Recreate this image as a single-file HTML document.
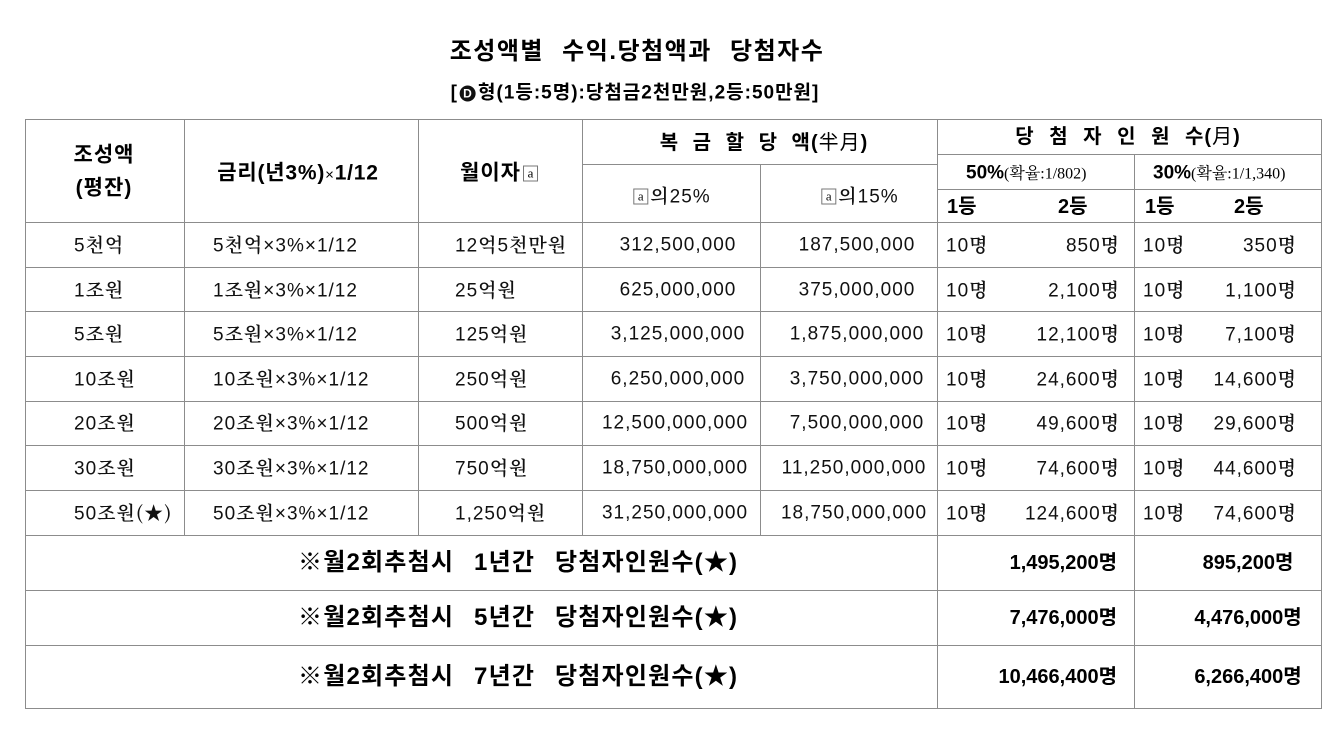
<!DOCTYPE html>
<html><head><meta charset="utf-8">
<style>
html,body{margin:0;padding:0;background:#fff;}
#c{position:relative;width:1344px;height:743px;overflow:hidden;background:#fff;}
.t{position:absolute;white-space:nowrap;line-height:1;transform:translateY(-50%);color:#111;}
.cx{transform:translate(-50%,-50%);}
.b{font-family:"Liberation Sans","Noto Sans CJK KR",sans-serif;font-weight:bold;color:#000;}
.s{font-family:"Liberation Sans","Noto Serif CJK SC","Noto Sans CJK KR",serif;font-size:19px;letter-spacing:1px;}
.s .k,.k{font-family:"Noto Serif CJK SC","Noto Sans CJK KR",serif;font-weight:600;}
.bx{display:inline-block;width:13px;height:14px;border:1px solid #777;font-family:"Liberation Serif",serif;font-weight:normal;font-size:13px;line-height:13px;text-align:center;vertical-align:2px;margin:0 2px;letter-spacing:0;}
.sm{font-family:"Liberation Serif","Noto Serif CJK SC",serif;font-weight:normal;font-size:16px;}
.dc{display:inline-block;width:16px;height:16px;border-radius:50%;background:#111;color:#fff;font-size:12px;line-height:16px;text-align:center;vertical-align:1px;margin:0 2px;}
</style></head><body><div id="c">
<svg width="1344" height="743" style="position:absolute;left:0;top:0" shape-rendering="crispEdges">
<g stroke="#8c8c8c" stroke-width="1">
<line x1="25.5" y1="119" x2="25.5" y2="709"/>
<line x1="184.5" y1="119" x2="184.5" y2="535"/>
<line x1="418.5" y1="119" x2="418.5" y2="535"/>
<line x1="582.5" y1="119" x2="582.5" y2="535"/>
<line x1="760.5" y1="164" x2="760.5" y2="535"/>
<line x1="937.5" y1="119" x2="937.5" y2="709"/>
<line x1="1134.5" y1="154" x2="1134.5" y2="709"/>
<line x1="1321.5" y1="119" x2="1321.5" y2="709"/>
<line x1="25" y1="119.5" x2="1322" y2="119.5"/>
<line x1="582" y1="164.5" x2="937" y2="164.5"/>
<line x1="937" y1="154.5" x2="1322" y2="154.5"/>
<line x1="937" y1="189.5" x2="1322" y2="189.5"/>
<line x1="25" y1="222.5" x2="1322" y2="222.5"/>
<line x1="25" y1="267.5" x2="1322" y2="267.5"/>
<line x1="25" y1="311.5" x2="1322" y2="311.5"/>
<line x1="25" y1="356.5" x2="1322" y2="356.5"/>
<line x1="25" y1="401.5" x2="1322" y2="401.5"/>
<line x1="25" y1="445.5" x2="1322" y2="445.5"/>
<line x1="25" y1="490.5" x2="1322" y2="490.5"/>
<line x1="25" y1="535.5" x2="1322" y2="535.5"/>
<line x1="25" y1="590.5" x2="1322" y2="590.5"/>
<line x1="25" y1="645.5" x2="1322" y2="645.5"/>
<line x1="25" y1="708.5" x2="1322" y2="708.5"/>
</g></svg>

<div class="t b cx" style="left:637px;top:52px;font-size:24px;letter-spacing:1.5px;word-spacing:10px;">조성액별 수익.당첨액과 당첨자수</div>
<div class="t b cx" style="left:635px;top:93px;font-size:19px;letter-spacing:1px;">[<span class="dc">D</span>형(1등:5명):당첨금2천만원,2등:50만원]</div>

<!-- headers -->
<div class="t b cx" style="left:104px;top:155px;font-size:21px;letter-spacing:1px;">조성액</div>
<div class="t b cx" style="left:104px;top:188px;font-size:21px;letter-spacing:1px;">(평잔)</div>
<div class="t b cx" style="left:298px;top:173px;font-size:21px;letter-spacing:0.8px;">금리(년3%)<span style="font-weight:normal;font-size:15px;">×</span>1/12</div>
<div class="t b cx" style="left:500px;top:173px;font-size:21px;letter-spacing:1px;">월이자<span class="bx">a</span></div>
<div class="t b cx" style="left:764px;top:143px;font-size:20px;letter-spacing:1px;word-spacing:7px;">복 금 할 당 액(<span style="font-weight:normal">半月</span>)</div>
<div class="t s cx" style="left:671px;top:196px;"><span class="bx">a</span><span class="k">의</span>25%</div>
<div class="t s cx" style="left:859px;top:196px;"><span class="bx">a</span><span class="k">의</span>15%</div>
<div class="t b cx" style="left:1128px;top:137px;font-size:20px;letter-spacing:1px;word-spacing:8px;">당 첨 자 인 원 수(<span style="font-weight:normal">月</span>)</div>
<div class="t b" style="left:966px;top:173px;font-size:19px;">50%<span class="sm">(확율:1/802)</span></div>
<div class="t b" style="left:1153px;top:173px;font-size:19px;">30%<span class="sm">(확율:1/1,340)</span></div>
<div class="t b" style="left:947px;top:207px;font-size:20px;">1등</div>
<div class="t b" style="left:1058px;top:207px;font-size:20px;">2등</div>
<div class="t b" style="left:1145px;top:207px;font-size:20px;">1등</div>
<div class="t b" style="left:1234px;top:207px;font-size:20px;">2등</div>

<!-- data rows -->
<div class="t s" style="left:74px;top:245px;">5<span class="k">천억</span></div>
<div class="t s" style="left:213px;top:245px;">5<span class="k">천억</span>×3%×1/12</div>
<div class="t s" style="left:455px;top:245px;">12<span class="k">억</span>5<span class="k">천만원</span></div>
<div class="t s cx" style="left:678px;top:245px;">312,500,000</div>
<div class="t s cx" style="left:857px;top:245px;">187,500,000</div>
<div class="t s" style="left:946px;top:245px;">10<span class="k">명</span></div>
<div class="t s" style="right:224px;top:245px;">850<span class="k">명</span></div>
<div class="t s" style="left:1143px;top:245px;">10<span class="k">명</span></div>
<div class="t s" style="right:47px;top:245px;">350<span class="k">명</span></div>

<div class="t s" style="left:74px;top:290px;">1<span class="k">조원</span></div>
<div class="t s" style="left:213px;top:290px;">1<span class="k">조원</span>×3%×1/12</div>
<div class="t s" style="left:455px;top:290px;">25<span class="k">억원</span></div>
<div class="t s cx" style="left:678px;top:290px;">625,000,000</div>
<div class="t s cx" style="left:857px;top:290px;">375,000,000</div>
<div class="t s" style="left:946px;top:290px;">10<span class="k">명</span></div>
<div class="t s" style="right:224px;top:290px;">2,100<span class="k">명</span></div>
<div class="t s" style="left:1143px;top:290px;">10<span class="k">명</span></div>
<div class="t s" style="right:47px;top:290px;">1,100<span class="k">명</span></div>

<div class="t s" style="left:74px;top:334px;">5<span class="k">조원</span></div>
<div class="t s" style="left:213px;top:334px;">5<span class="k">조원</span>×3%×1/12</div>
<div class="t s" style="left:455px;top:334px;">125<span class="k">억원</span></div>
<div class="t s cx" style="left:678px;top:334px;">3,125,000,000</div>
<div class="t s cx" style="left:857px;top:334px;">1,875,000,000</div>
<div class="t s" style="left:946px;top:334px;">10<span class="k">명</span></div>
<div class="t s" style="right:224px;top:334px;">12,100<span class="k">명</span></div>
<div class="t s" style="left:1143px;top:334px;">10<span class="k">명</span></div>
<div class="t s" style="right:47px;top:334px;">7,100<span class="k">명</span></div>

<div class="t s" style="left:74px;top:379px;">10<span class="k">조원</span></div>
<div class="t s" style="left:213px;top:379px;">10<span class="k">조원</span>×3%×1/12</div>
<div class="t s" style="left:455px;top:379px;">250<span class="k">억원</span></div>
<div class="t s cx" style="left:678px;top:379px;">6,250,000,000</div>
<div class="t s cx" style="left:857px;top:379px;">3,750,000,000</div>
<div class="t s" style="left:946px;top:379px;">10<span class="k">명</span></div>
<div class="t s" style="right:224px;top:379px;">24,600<span class="k">명</span></div>
<div class="t s" style="left:1143px;top:379px;">10<span class="k">명</span></div>
<div class="t s" style="right:47px;top:379px;">14,600<span class="k">명</span></div>

<div class="t s" style="left:74px;top:423px;">20<span class="k">조원</span></div>
<div class="t s" style="left:213px;top:423px;">20<span class="k">조원</span>×3%×1/12</div>
<div class="t s" style="left:455px;top:423px;">500<span class="k">억원</span></div>
<div class="t s cx" style="left:675px;top:423px;">12,500,000,000</div>
<div class="t s cx" style="left:857px;top:423px;">7,500,000,000</div>
<div class="t s" style="left:946px;top:423px;">10<span class="k">명</span></div>
<div class="t s" style="right:224px;top:423px;">49,600<span class="k">명</span></div>
<div class="t s" style="left:1143px;top:423px;">10<span class="k">명</span></div>
<div class="t s" style="right:47px;top:423px;">29,600<span class="k">명</span></div>

<div class="t s" style="left:74px;top:468px;">30<span class="k">조원</span></div>
<div class="t s" style="left:213px;top:468px;">30<span class="k">조원</span>×3%×1/12</div>
<div class="t s" style="left:455px;top:468px;">750<span class="k">억원</span></div>
<div class="t s cx" style="left:675px;top:468px;">18,750,000,000</div>
<div class="t s cx" style="left:854px;top:468px;">11,250,000,000</div>
<div class="t s" style="left:946px;top:468px;">10<span class="k">명</span></div>
<div class="t s" style="right:224px;top:468px;">74,600<span class="k">명</span></div>
<div class="t s" style="left:1143px;top:468px;">10<span class="k">명</span></div>
<div class="t s" style="right:47px;top:468px;">44,600<span class="k">명</span></div>

<div class="t s" style="left:74px;top:513px;">50<span class="k">조원(★)</span></div>
<div class="t s" style="left:213px;top:513px;">50<span class="k">조원</span>×3%×1/12</div>
<div class="t s" style="left:455px;top:513px;">1,250<span class="k">억원</span></div>
<div class="t s cx" style="left:675px;top:513px;">31,250,000,000</div>
<div class="t s cx" style="left:854px;top:513px;">18,750,000,000</div>
<div class="t s" style="left:946px;top:513px;">10<span class="k">명</span></div>
<div class="t s" style="right:224px;top:513px;">124,600<span class="k">명</span></div>
<div class="t s" style="left:1143px;top:513px;">10<span class="k">명</span></div>
<div class="t s" style="right:47px;top:513px;">74,600<span class="k">명</span></div>

<!-- summary rows -->
<div class="t b" style="left:298px;top:563px;font-size:24px;letter-spacing:1.2px;word-spacing:12px;">※월2회추첨시 1년간 당첨자인원수(★)</div>
<div class="t b" style="left:298px;top:618px;font-size:24px;letter-spacing:1.2px;word-spacing:12px;">※월2회추첨시 5년간 당첨자인원수(★)</div>
<div class="t b" style="left:298px;top:677px;font-size:24px;letter-spacing:1.2px;word-spacing:12px;">※월2회추첨시 7년간 당첨자인원수(★)</div>

<div class="t b" style="right:227px;top:563px;font-size:20px;">1,495,200명</div>
<div class="t b cx" style="left:1248px;top:563px;font-size:20px;">895,200명</div>
<div class="t b" style="right:227px;top:618px;font-size:20px;">7,476,000명</div>
<div class="t b cx" style="left:1248px;top:618px;font-size:20px;">4,476,000명</div>
<div class="t b" style="right:227px;top:677px;font-size:20px;">10,466,400명</div>
<div class="t b cx" style="left:1248px;top:677px;font-size:20px;">6,266,400명</div>
</div></body></html>
